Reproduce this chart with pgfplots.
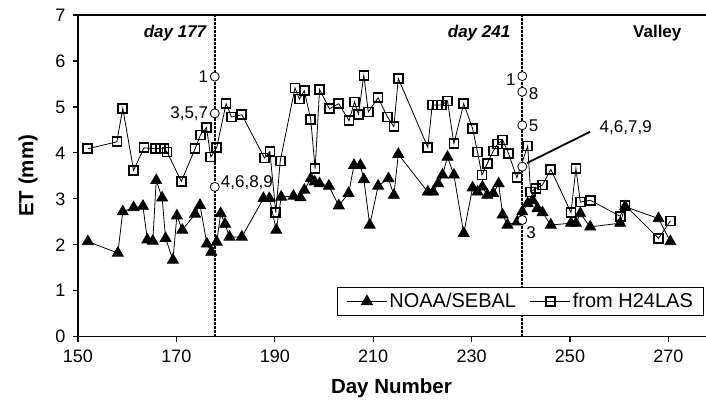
\documentclass[border=0pt]{standalone}
\usepackage{fontspec}
\setmainfont{Liberation Sans}
\usepackage{pgfplots}
\usepackage{pgfplotstable}
\pgfplotsset{compat=1.18}

% ET estimated from NOAA/SEBAL
\pgfplotstableread{
day et
152.0 2.07
158.1 1.82
159.1 2.72
161.3 2.81
163.2 2.84
164.1 2.11
165.2 2.08
165.9 3.40
167.1 3.02
167.8 2.14
169.3 1.67
170.1 2.63
171.2 2.32
173.8 2.67
174.8 2.86
176.2 2.02
177.1 1.84
178.2 2.06
179.0 2.68
179.9 2.45
180.8 2.17
183.3 2.17
187.7 3.01
188.9 3.01
190.3 2.32
191.3 3.04
193.8 3.06
195.2 3.03
196.0 3.19
197.3 3.44
198.1 3.37
199.1 3.33
201.0 3.28
203.0 2.85
205.0 3.12
206.1 3.73
207.4 3.73
208.1 3.42
209.3 2.43
211.0 3.28
213.1 3.44
214.2 3.08
215.1 3.97
221.1 3.15
222.2 3.15
223.2 3.33
224.1 3.52
225.1 3.91
226.4 3.52
228.4 2.25
230.2 3.24
231.2 3.15
232.2 3.26
233.2 3.08
234.4 3.12
235.5 3.33
236.3 2.65
237.3 2.43
239.3 2.50
240.3 2.72
241.4 2.90
242.4 2.97
243.4 2.79
244.4 2.70
246.1 2.43
250.2 2.47
251.2 2.47
252.1 2.68
254.1 2.39
260.2 2.47
261.2 2.83
268.0 2.57
270.4 2.07
}\noaa

% ET derived from the H24LAS scintillometer
\pgfplotstableread{
day et
152.0 4.09
157.9 4.24
159.1 4.97
161.3 3.62
163.4 4.11
165.7 4.09
166.7 4.10
167.5 4.10
168.1 4.02
171.0 3.38
173.8 4.09
174.9 4.39
176.1 4.55
177.0 3.91
178.2 4.12
180.1 5.07
181.2 4.78
183.3 4.83
187.9 3.89
189.0 4.03
190.2 2.70
191.1 3.82
194.1 5.41
195.0 5.17
196.0 5.35
197.3 4.73
198.2 3.66
199.1 5.38
201.1 4.96
203.0 5.07
205.1 4.70
206.2 5.11
207.0 4.84
208.1 5.69
209.0 4.89
211.0 5.20
212.9 4.78
214.2 4.57
215.1 5.62
221.1 4.12
222.0 5.04
223.0 5.04
223.9 5.04
225.1 5.13
226.4 4.20
228.4 5.07
230.2 4.53
231.2 4.02
232.1 3.52
233.2 3.77
234.4 4.04
235.3 4.19
236.3 4.28
237.5 3.99
239.2 3.46
241.4 4.15
242.0 3.15
243.1 3.23
244.4 3.30
246.1 3.64
250.2 2.70
251.2 3.66
252.1 2.93
254.1 2.97
260.2 2.62
261.2 2.86
268.0 2.14
270.4 2.52
}\hlas

\newcommand{\lbl}{\fontsize{17bp}{19bp}\selectfont}
\newcommand{\axlbl}{\fontsize{20.5bp}{23bp}\selectfont\bfseries}

\begin{document}
\begin{tikzpicture}
\path[use as bounding box] (-78bp,-66.3bp) rectangle (628bp,336.7bp);
\begin{axis}[
  scale only axis,
  width=639.6bp, height=321.7bp,
  xmin=150, xmax=280, ymin=0, ymax=7,
  xtick={150,170,...,270}, ytick={0,1,...,7},
  xtick pos=bottom, ytick pos=left,
  tick align=outside, major tick length=5bp,
  tick style={black, line width=1.2bp},
  axis line style={line width=1.5bp},
  /pgf/number format/assume math mode=true,
  xticklabel style={font=\fontsize{18bp}{20bp}\selectfont, yshift=-5bp},
  yticklabel style={font=\fontsize{18bp}{20bp}\selectfont, xshift=-4bp},
  xlabel={Day Number},
  ylabel={ET (mm)},
  every axis x label/.style={at={(axis description cs:0.49,-0.16)}, anchor=center, font=\axlbl},
  every axis y label/.style={at={(axis description cs:-0.078,0.5)}, rotate=90, anchor=center, font=\axlbl},
  clip=false,
  legend columns=2,
  legend style={at={(axis description cs:0.405,0.1545)}, anchor=north west,
    draw=black, line width=1bp, inner xsep=9bp, inner ysep=4bp,
    font=\fontsize{20bp}{23bp}\selectfont,
    /tikz/every even column/.append style={column sep=12bp}},
  legend image code/.code={\draw[mark repeat=2,mark phase=2,#1] plot coordinates {(0bp,0bp) (20bp,0bp) (40bp,0bp)};},
]
% observation days
\addplot[forget plot, black, line width=2bp, dash pattern=on 2.5bp off 1.5bp] coordinates {(177.8,0) (177.8,7)};
\addplot[forget plot, black, line width=2bp, dash pattern=on 2.5bp off 1.5bp] coordinates {(240.3,0) (240.3,7)};

\addplot[black, line width=0.8bp, mark=triangle*, mark size=6.3bp, mark options={solid, fill=black}] table[x=day, y=et] {\noaa};
\addlegendentry{NOAA/SEBAL}
\addplot[black, line width=0.8bp, mark=square, mark size=4.5bp, mark options={solid, line width=1.7bp}] table[x=day, y=et] {\hlas};
\addlegendentry{from H24LAS}

% point estimates on the two days
\addplot[forget plot, only marks, mark=*, mark size=4.5bp, mark options={fill=white, draw=black, line width=0.8bp}] coordinates {
(177.8,5.66) (177.8,4.86) (177.8,3.26)
(240.3,5.67) (240.3,5.33) (240.3,4.60) (240.3,3.70) (240.3,2.54)};

\draw[black, line width=1.8bp] (axis cs:241.3,3.78) -- (axis cs:254.1,4.46);

\node[anchor=east, font=\lbl, inner sep=1bp] at (axis cs:176.7,5.66) {1};
\node[anchor=east, font=\lbl, inner sep=1bp] at (axis cs:176.7,4.86) {3,5,7};
\node[anchor=west, font=\lbl, inner sep=1bp] at (axis cs:178.8,3.36) {4,6,8,9};
\node[anchor=east, font=\lbl, inner sep=1bp] at (axis cs:239.2,5.60) {1};
\node[anchor=west, font=\lbl, inner sep=1bp] at (axis cs:241.4,5.28) {8};
\node[anchor=west, font=\lbl, inner sep=1bp] at (axis cs:241.4,4.60) {5};
\node[anchor=west, font=\lbl, inner sep=1bp] at (axis cs:255.8,4.54) {4,6,7,9};
\node[anchor=north west, font=\lbl, inner sep=1bp] at (axis cs:240.9,2.42) {3};

\node[anchor=east, font=\lbl\bfseries\itshape, inner sep=0pt] at (axis cs:176.1,6.60) {day 177};
\node[anchor=east, font=\lbl\bfseries\itshape, inner sep=0pt] at (axis cs:237.9,6.60) {day 241};
\node[anchor=west, font=\lbl\bfseries, inner sep=0pt] at (axis cs:262.8,6.60) {Valley};
\end{axis}
\end{tikzpicture}
\end{document}
